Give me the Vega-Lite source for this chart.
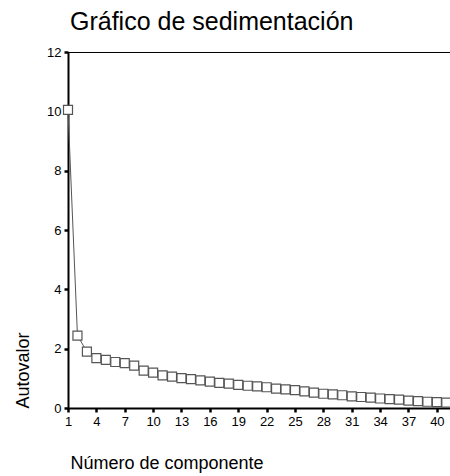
{
  "$schema": "https://vega.github.io/schema/vega-lite/v6.json",
  "autosize": {"type": "none"},
  "padding": {"left": 68, "top": 52, "right": 0, "bottom": 68},
  "width": 384,
  "height": 356,
  "background": "white",
  "config": {
    "font": "Liberation Sans",
    "view": {"stroke": "black", "strokeWidth": 1},
    "axis": {"grid": false}
  },
  "title": {
    "text": "Gráfico de sedimentación",
    "anchor": "start",
    "frame": "group",
    "dx": 2,
    "offset": 11,
    "fontSize": 25,
    "fontWeight": "normal",
    "font": "Liberation Sans",
    "color": "black"
  },
  "data": {
    "values": [
      {"componente": 1, "autovalor": 10.05},
      {"componente": 2, "autovalor": 2.44},
      {"componente": 3, "autovalor": 1.9},
      {"componente": 4, "autovalor": 1.68},
      {"componente": 5, "autovalor": 1.62},
      {"componente": 6, "autovalor": 1.55},
      {"componente": 7, "autovalor": 1.51},
      {"componente": 8, "autovalor": 1.43},
      {"componente": 9, "autovalor": 1.26},
      {"componente": 10, "autovalor": 1.19},
      {"componente": 11, "autovalor": 1.1},
      {"componente": 12, "autovalor": 1.06},
      {"componente": 13, "autovalor": 1.01},
      {"componente": 14, "autovalor": 0.97},
      {"componente": 15, "autovalor": 0.93},
      {"componente": 16, "autovalor": 0.89},
      {"componente": 17, "autovalor": 0.85},
      {"componente": 18, "autovalor": 0.82},
      {"componente": 19, "autovalor": 0.78},
      {"componente": 20, "autovalor": 0.75},
      {"componente": 21, "autovalor": 0.73},
      {"componente": 22, "autovalor": 0.7},
      {"componente": 23, "autovalor": 0.65},
      {"componente": 24, "autovalor": 0.63},
      {"componente": 25, "autovalor": 0.6},
      {"componente": 26, "autovalor": 0.56},
      {"componente": 27, "autovalor": 0.52},
      {"componente": 28, "autovalor": 0.48},
      {"componente": 29, "autovalor": 0.46},
      {"componente": 30, "autovalor": 0.43},
      {"componente": 31, "autovalor": 0.39},
      {"componente": 32, "autovalor": 0.37},
      {"componente": 33, "autovalor": 0.35},
      {"componente": 34, "autovalor": 0.32},
      {"componente": 35, "autovalor": 0.3},
      {"componente": 36, "autovalor": 0.28},
      {"componente": 37, "autovalor": 0.25},
      {"componente": 38, "autovalor": 0.23},
      {"componente": 39, "autovalor": 0.21},
      {"componente": 40, "autovalor": 0.2},
      {"componente": 41, "autovalor": 0.18}
    ]
  },
  "encoding": {
    "x": {
      "field": "componente",
      "type": "quantitative",
      "scale": {"domain": [1, 41.6], "nice": false, "zero": false},
      "axis": {
        "title": "Número de componente",
        "values": [1, 4, 7, 10, 13, 16, 19, 22, 25, 28, 31, 34, 37, 40],
        "format": "d",
        "labelFontSize": 13,
        "labelColor": "black",
        "labelPadding": 3,
        "labelFlush": false,
        "labelOverlap": false,
        "tickSize": 4,
        "tickWidth": 2.5,
        "tickColor": "black",
        "domainColor": "black",
        "domainWidth": 2,
        "titleFontSize": 18,
        "titleFontWeight": "normal",
        "titleColor": "black",
        "titleAnchor": "start",
        "titleAlign": "left",
        "titleBaseline": "alphabetic",
        "titleX": 2,
        "titleY": 60
      }
    },
    "y": {
      "field": "autovalor",
      "type": "quantitative",
      "scale": {"domain": [0, 12], "nice": false},
      "axis": {
        "title": "Autovalor",
        "values": [0, 2, 4, 6, 8, 10, 12],
        "labelFontSize": 13,
        "labelColor": "black",
        "labelPadding": 3,
        "labelFlush": false,
        "tickSize": 4,
        "tickWidth": 2.5,
        "tickColor": "black",
        "domainColor": "black",
        "domainWidth": 2,
        "titleFontSize": 18,
        "titleFontWeight": "normal",
        "titleColor": "black",
        "titleAngle": -90,
        "titleAlign": "left",
        "titleBaseline": "alphabetic",
        "titleX": -40,
        "titleY": 356
      }
    }
  },
  "layer": [
    {"mark": {"type": "line", "color": "#555555", "strokeWidth": 1}},
    {"mark": {"type": "point", "shape": "square", "size": 81, "filled": false, "fill": "white", "fillOpacity": 1, "stroke": "#555555", "strokeWidth": 1.2, "opacity": 1}}
  ]
}
